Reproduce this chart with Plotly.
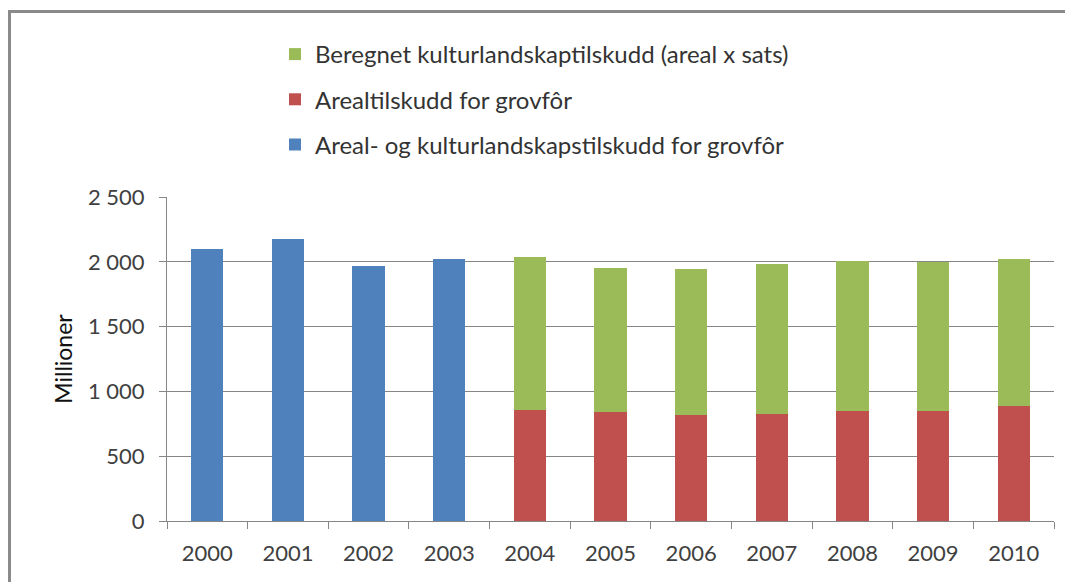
import plotly.graph_objects as go

years = ["2000", "2001", "2002", "2003", "2004", "2005", "2006", "2007", "2008", "2009", "2010"]
areal_kultur = [2097, 2175, 1968, 2020, None, None, None, None, None, None, None]
arealtilskudd = [None, None, None, None, 858, 838, 819, 827, 848, 848, 886]
beregnet = [None, None, None, None, 1177, 1117, 1126, 1157, 1157, 1151, 1139]

names = ["Areal- og kulturlandskapstilskudd for grovfôr",
         "Arealtilskudd for grovfôr",
         "Beregnet kulturlandskaptilskudd (areal x sats)"]
colors = ["#4F81BD", "#C0504D", "#9BBB59"]

ytickvals = [0, 500, 1000, 1500, 2000, 2500]
yticktext = ["0", "500", "1 000", "1 500", "2 000", "2 500"]

font_family = "Lato, 'Open Sans', sans-serif"

fig = go.Figure()
for i, (nm, vals, col) in enumerate(zip(names, [areal_kultur, arealtilskudd, beregnet], colors)):
    fig.add_trace(go.Bar(x=years, y=vals, name=nm, legendgroup=str(i), legendrank=1000 - i,
                         marker=dict(color=col, line=dict(width=0))))

# page body adds an 8px offset; positions below are in screen pixels minus 8
OFF = 8
W, H = 1073, 582
L, R, T, B = 167 - OFF, 1073 - (1054 - OFF), 197 - OFF, 582 - (521 - OFF)
pw, ph = W - L - R, H - T - B

def px(x):
    return (x - OFF - L) / pw

def py(y):
    return (H - B - (y - OFF)) / ph

frame = dict(color="#8a8a8a", width=3)

fig.update_layout(
    width=W, height=H,
    margin=dict(l=L, r=R, t=T, b=B),
    barmode="stack",
    bargap=0.6,
    paper_bgcolor="white",
    plot_bgcolor="white",
    font=dict(family=font_family, size=22, color="#404040"),
    legend=dict(x=px(275), y=py(32), xanchor="left", yanchor="top",
                traceorder="grouped", tracegroupgap=11,
                font=dict(size=24, color="#333333"), bgcolor="rgba(0,0,0,0)"),
    xaxis=dict(type="category", showline=True, linecolor="#868686", linewidth=1,
               ticks="outside", tickson="boundaries", ticklen=7, tickcolor="#868686",
               showgrid=False, ticklabelstandoff=13,
               tickfont=dict(size=22, color="#404040")),
    yaxis=dict(range=[0, 2500], tickvals=ytickvals, ticktext=yticktext,
               showline=True, linecolor="#868686", linewidth=1,
               ticks="outside", ticklen=7, tickcolor="#868686",
               showgrid=True, gridcolor="#868686", gridwidth=1,
               zeroline=False, ticklabelstandoff=10,
               title=dict(text="Millioner", font=dict(size=23, color="#111111"), standoff=8),
               tickfont=dict(size=22, color="#404040")),
    shapes=[
        dict(type="line", xref="paper", yref="paper",
             x0=px(8), x1=px(1200), y0=py(11.5), y1=py(11.5), line=frame),
        dict(type="line", xref="paper", yref="paper",
             x0=px(9.5), x1=px(9.5), y0=py(10), y1=py(700), line=frame),
    ],
)

fig.write_html("out.html")
